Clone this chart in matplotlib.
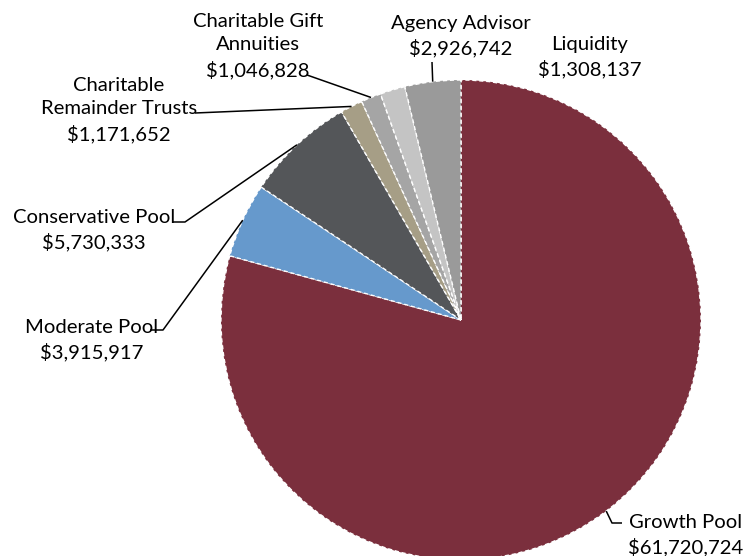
import numpy as np
import matplotlib
matplotlib.use("Agg")
import matplotlib.pyplot as plt

plt.rcParams['font.family'] = ['Lato', 'DejaVu Sans']

categories = ["Growth Pool", "Moderate Pool", "Conservative Pool",
              "Charitable\nRemainder Trusts", "Charitable Gift\nAnnuities",
              "Liquidity", "Agency Advisor"]
values = [61720724, 3915917, 5730333, 1171652, 1046828, 1308137, 2926742]
colors = ["#7B2F3D", "#6699CC", "#545659", "#A69E86", "#A5A5A5", "#C4C4C4", "#9A9A9A"]

W, H = 749, 556
fig = plt.figure(figsize=(W / 100, H / 100), dpi=100)
ax = fig.add_axes([0, 0, 1, 1])

cx, cy, R = 461, H - 320, 240
wedges, _ = ax.pie(values, colors=colors, startangle=90, counterclock=False,
                   center=(cx, cy), radius=R, frame=True,
                   wedgeprops=dict(edgecolor='white', linewidth=1.0, linestyle=(0, (3, 2))))
ax.set_xlim(0, W)
ax.set_ylim(0, H)
ax.set_aspect('equal')
ax.axis('off')

# label text centres (x, y from top) and leader-line elbows
label_pos = {
    0: dict(text=(686, 535), elbow=[(612, 523), (622, 523)]),
    1: dict(text=(92, 340), elbow=[(163, 330), (150, 330)]),
    2: dict(text=(94, 230), elbow=[(185, 222), (172, 222)]),
    3: dict(text=(119, 110), elbow=[(195, 113)]),
    4: dict(text=(258, 46), elbow=[(307, 75)]),
    5: dict(text=(590, 57), elbow=None),
    6: dict(text=(461, 36), elbow=[(432, 62)]),
}

for i, w in enumerate(wedges):
    txt = f"{categories[i]}\n${values[i]:,.0f}"
    p = label_pos[i]
    tx, ty = p['text']
    ax.text(tx, H - ty, txt, ha='center', va='center', fontsize=14.6,
            linespacing=1.45, color='black')
    if p['elbow']:
        mid = np.deg2rad((w.theta1 + w.theta2) / 2)
        start = (cx + R * np.cos(mid), cy + R * np.sin(mid))
        pts = [start] + [(x, H - y) for x, y in p['elbow']]
        xs, ys = zip(*pts)
        ax.plot(xs, ys, color='black', lw=1.1, solid_capstyle='butt')

fig.savefig("out.png", dpi=100, facecolor='white')
